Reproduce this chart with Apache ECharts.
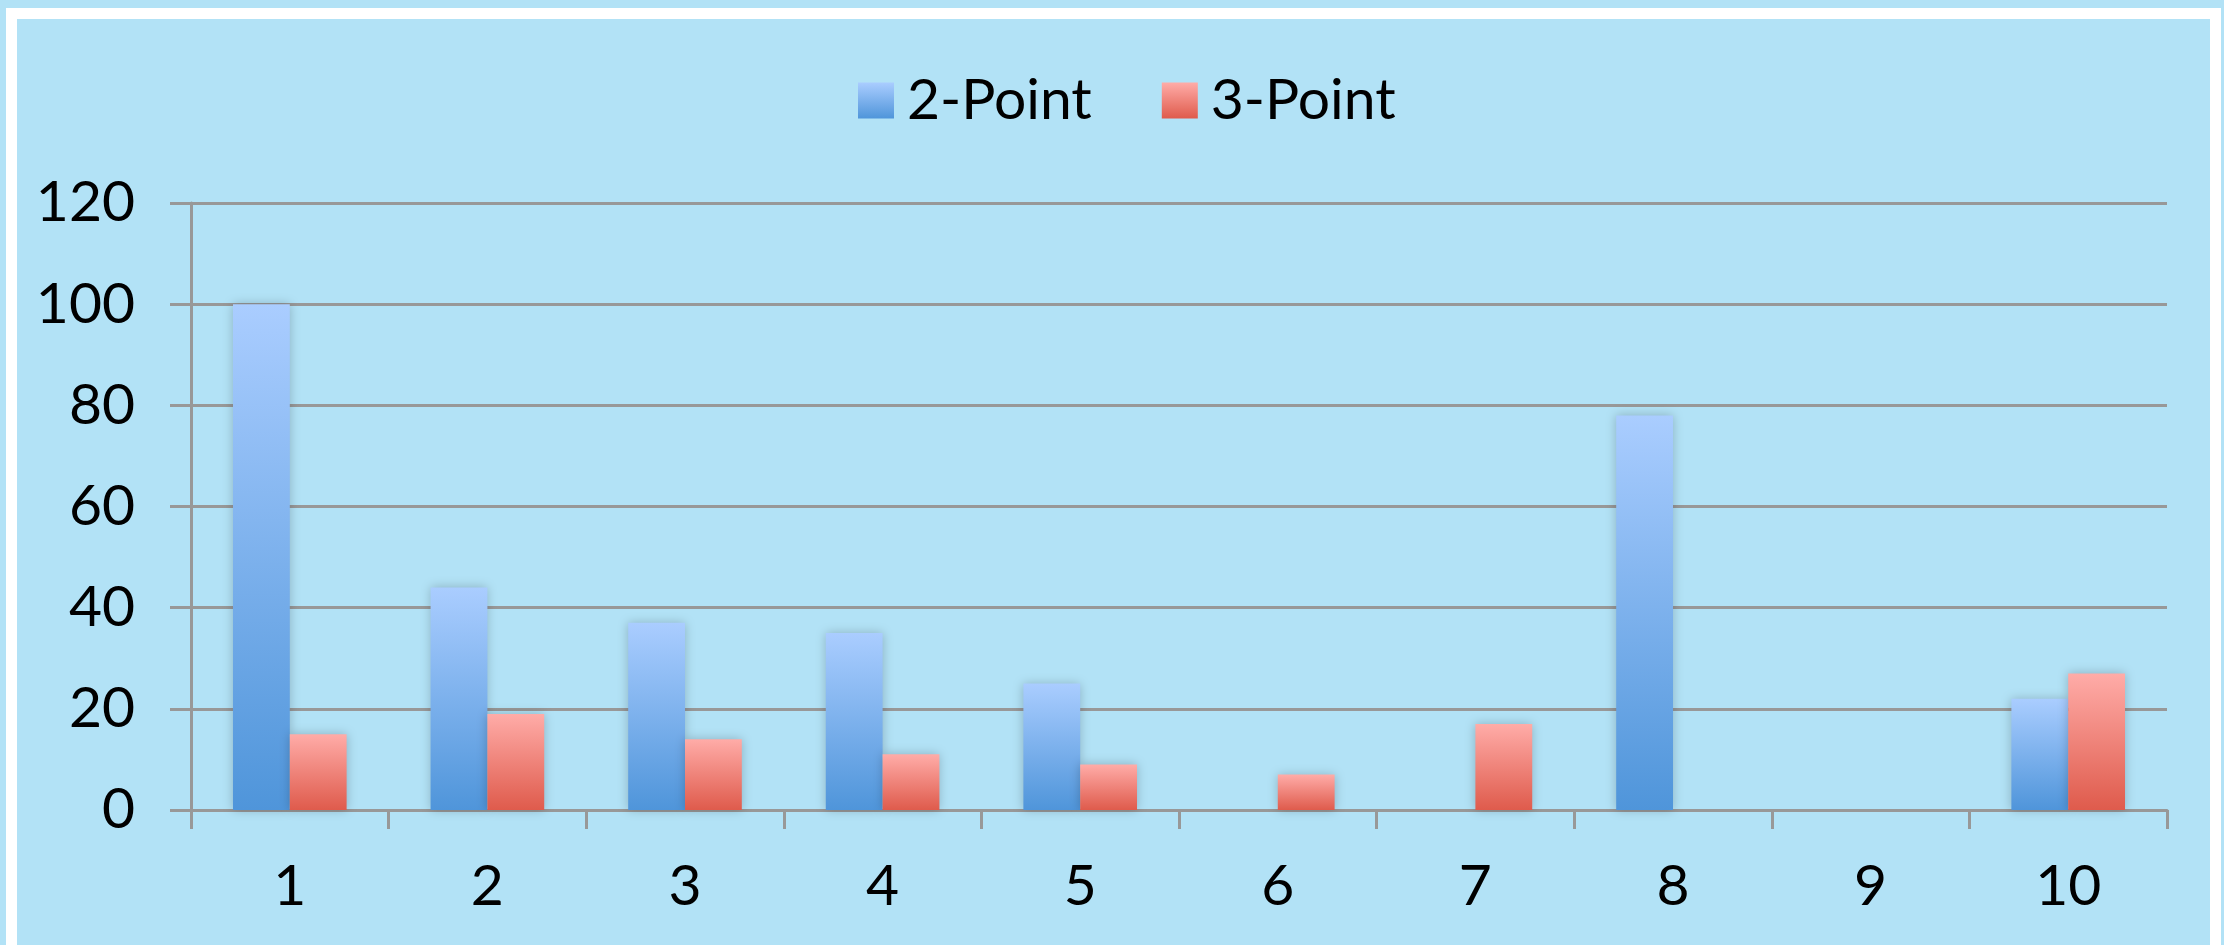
<!DOCTYPE html>
<html>
<head>
<meta charset="utf-8">
<style>
  html, body { margin: 0; padding: 0; background: #b2e2f6; }
  #chart { width: 2224px; height: 945px; }
</style>
<script src="https://cdn.jsdelivr.net/npm/echarts@6/dist/echarts.min.js"></script>
</head>
<body>
<div id="chart"></div>
<script>
// values
const categories = ['1', '2', '3', '4', '5', '6', '7', '8', '9', '10']
const twoPoint = [100, 44, 37, 35, 25, 0, 0, 78, 0, 22]
const threePoint = [15, 19, 14, 11, 9, 7, 17, 0, 0, 27]

const chart = echarts.init(document.getElementById('chart'))

function grad(top, bottom) {
  return new echarts.graphic.LinearGradient(0, 0, 0, 1, [
    { offset: 0, color: top },
    { offset: 1, color: bottom }
  ])
}

const fontFamily = 'Lato, "Noto Sans", sans-serif'
const gridColor = '#989898'

const option = {
  backgroundColor: '#b2e2f6',
  textStyle: { fontFamily: fontFamily, color: '#000' },
  animation: false,
  graphic: [
    {
      // white frame round the chart
      type: 'rect',
      shape: { x: 11.5, y: 13.5, width: 2204, height: 1000 },
      style: { fill: 'none', stroke: '#ffffff', lineWidth: 11 },
      z: 100
    }
  ],
  legend: {
    left: 853,
    top: 67,
    itemWidth: 36,
    itemHeight: 36,
    itemGap: 70,
    icon: 'rect',
    textStyle: { fontSize: 57, lineHeight: 57, color: '#000', padding: [0, 0, 0, 8] },
    data: ['2-Point', '3-Point']
  },
  grid: {
    left: 191,
    right: 57,
    top: 203,
    bottom: 135,
    containLabel: false
  },
  xAxis: {
    type: 'category',
    data: categories,
    axisLine: { lineStyle: { color: gridColor, width: 3 } },
    axisTick: { show: true, length: 19, lineStyle: { color: gridColor, width: 3 } },
    axisLabel: { fontSize: 57, color: '#000', margin: 48 }
  },
  yAxis: {
    type: 'value',
    min: 0,
    max: 120,
    interval: 20,
    axisLine: { show: true, lineStyle: { color: gridColor, width: 3 } },
    axisTick: { show: true, length: 21, lineStyle: { color: gridColor, width: 3 } },
    splitLine: { show: true, lineStyle: { color: gridColor, width: 3 } },
    axisLabel: { fontSize: 57, color: '#000', margin: 56 }
  },
  series: [
    {
      name: '2-Point',
      type: 'bar',
      data: twoPoint,
      barGap: '0%',
      barCategoryGap: '42.5%',
      itemStyle: {
        color: grad('#aacdff', '#4f95da'),
        shadowBlur: 10,
        shadowColor: 'rgba(0, 0, 0, 0.22)'
      }
    },
    {
      name: '3-Point',
      type: 'bar',
      data: threePoint,
      barGap: '0%',
      barCategoryGap: '42.5%',
      itemStyle: {
        color: grad('#ffaca8', '#df5b4c'),
        shadowBlur: 10,
        shadowColor: 'rgba(0, 0, 0, 0.22)'
      }
    }
  ]
}

chart.setOption(option)
</script>
</body>
</html>
